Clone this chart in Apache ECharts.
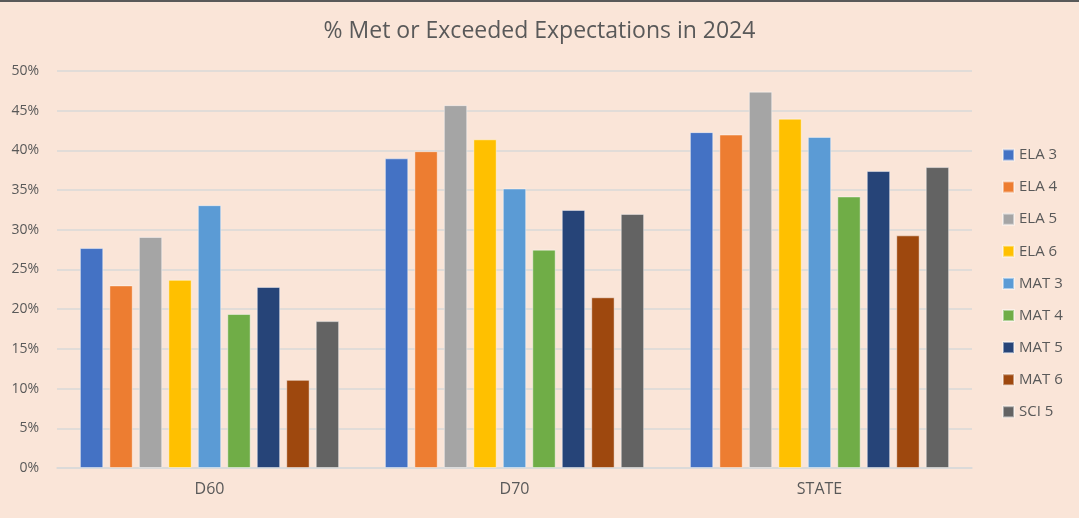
<!DOCTYPE html>
<html>
<head>
<meta charset="utf-8">
<script src="https://cdn.jsdelivr.net/npm/echarts@6/dist/echarts.min.js"></script>
<style>
  html, body { margin: 0; padding: 0; background: #fae5d8; }
  #chart { width: 1079px; height: 518px; }
</style>
</head>
<body>
<div id="chart"></div>
<script>
// categories and series (percent values)
const groups = ['D60', 'D70', 'STATE'];
const seriesNames = ['ELA 3', 'ELA 4', 'ELA 5', 'ELA 6', 'MAT 3', 'MAT 4', 'MAT 5', 'MAT 6', 'SCI 5'];
const ela3 = [27.7, 39.0, 42.3];
const ela4 = [23.0, 39.9, 42.0];
const ela5 = [29.1, 45.7, 47.4];
const ela6 = [23.7, 41.4, 44.0];
const mat3 = [33.1, 35.2, 41.7];
const mat4 = [19.4, 27.5, 34.2];
const mat5 = [22.8, 32.5, 37.4];
const mat6 = [11.1, 21.5, 29.3];
const sci5 = [18.5, 32.0, 37.9];
const colors = ['#4472c4', '#ed7d31', '#a5a5a5', '#ffc000', '#5b9bd5', '#70ad47', '#264478', '#9e480e', '#636363'];

const allValues = [ela3, ela4, ela5, ela6, mat3, mat4, mat5, mat6, sci5];
const font = '"Open Sans", "Noto Sans", sans-serif';

let myChart = echarts.init(document.getElementById('chart'));
let option = {
    backgroundColor: '#fae5d8',
    color: colors,
    textStyle: { fontFamily: font },
    title: {
        text: '% Met or Exceeded Expectations in 2024',
        left: 'center',
        top: 15,
        textStyle: { fontFamily: font, fontSize: 23, fontWeight: 'normal', color: '#595959' }
    },
    legend: {
        orient: 'vertical',
        left: 1002,
        top: 145,
        padding: 0,
        itemWidth: 11,
        itemHeight: 11,
        itemGap: 12.1,
        icon: 'rect',
        textStyle: { fontFamily: font, fontSize: 15, color: '#595959', lineHeight: 20 },
        data: seriesNames
    },
    grid: { left: 57, right: 107, top: 71, bottom: 50 },
    xAxis: {
        type: 'category',
        data: groups,
        axisTick: { show: false },
        axisLine: { lineStyle: { color: '#d9d9d9', width: 1.5 } },
        axisLabel: { fontFamily: font, fontSize: 16, color: '#595959', margin: 13 }
    },
    yAxis: {
        type: 'value',
        min: 0,
        max: 50,
        interval: 5,
        axisLine: { show: false },
        axisTick: { show: false },
        splitLine: { lineStyle: { color: '#d9d9d9', width: 1.5 } },
        axisLabel: { formatter: '{value}%', fontFamily: font, fontSize: 14, color: '#595959', margin: 18 }
    },
    graphic: [{
        type: 'rect',
        shape: { x: 0, y: 0, width: 1079, height: 2 },
        style: { fill: '#595959' }
    }],
    series: seriesNames.map(function (name, i) {
        return {
            name: name,
            type: 'bar',
            barCategoryGap: '15%',
            barGap: '26%',
            itemStyle: { borderColor: 'rgba(255,255,255,0.45)', borderWidth: 1 },
            data: allValues[i]
        };
    })
};
option && myChart.setOption(option);
</script>
</body>
</html>
